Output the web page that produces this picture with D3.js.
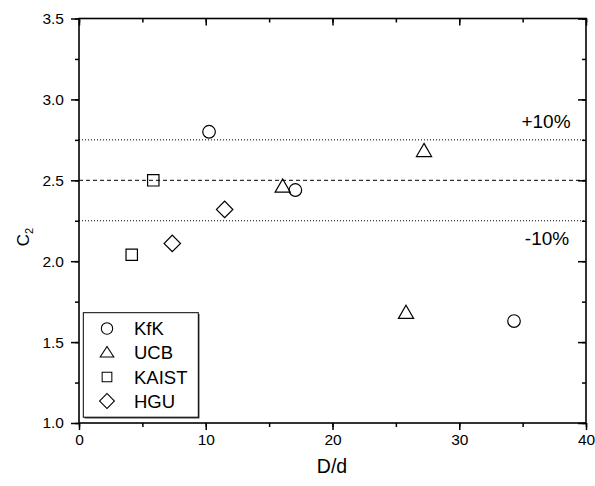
<!DOCTYPE html>
<html><head><meta charset="utf-8">
<script src="https://cdn.jsdelivr.net/npm/d3@7"></script>
<style>body{margin:0;background:#fff;} svg text{font-family:"Liberation Sans",Arial,sans-serif !important;fill:#000;}</style>
</head><body><svg id="c" width="595" height="486"></svg>
<script>
// Data
const kfkX = [10.26, 17.07, 34.32];
const kfkY = [2.80, 2.44, 1.63];
const ucbX = [16.07, 27.22, 25.80];
const ucbY = [2.46, 2.68, 1.68];
const kaistX = [5.86, 4.16];
const kaistY = [2.50, 2.04];
const hguX = [11.49, 7.36];
const hguY = [2.32, 2.11];
const xTicks = [0, 10, 20, 30, 40];
const yTicks = [1.0, 1.5, 2.0, 2.5, 3.0, 3.5];
const refLines = [2.75, 2.5, 2.25];

const svg = d3.select("#c");
const L = 79, R = 586, T = 18.5, B = 423;
const x = d3.scaleLinear().domain([0, 40]).range([L, R]);
const y = d3.scaleLinear().domain([1.0, 3.5]).range([B, T]);

// reference lines
svg.append("line").attr("x1", L).attr("x2", R).attr("y1", y(refLines[0])).attr("y2", y(refLines[0]))
  .attr("stroke", "#000").attr("stroke-width", 1).attr("stroke-dasharray", "1,2");
svg.append("line").attr("x1", L).attr("x2", R).attr("y1", y(refLines[1])).attr("y2", y(refLines[1]))
  .attr("stroke", "#000").attr("stroke-width", 1).attr("stroke-dasharray", "4,3");
svg.append("line").attr("x1", L).attr("x2", R).attr("y1", y(refLines[2])).attr("y2", y(refLines[2]))
  .attr("stroke", "#000").attr("stroke-width", 1).attr("stroke-dasharray", "1,2");

svg.append("text").attr("x", 546).attr("y", 127.5).attr("text-anchor", "middle").attr("font-size", 19).text("+10%");
svg.append("text").attr("x", 547).attr("y", 245).attr("text-anchor", "middle").attr("font-size", 19).text("-10%");

// axes
const fmt = d3.format(".1f");
const xMinor = d3.range(0, 41, 5);
const yMinor = d3.range(1.0, 3.51, 0.25);
function styleAxis(g){ g.select(".domain").remove(); g.attr("font-family", "Liberation Sans"); g.selectAll("line").attr("stroke","#000").attr("stroke-width",1.5); }

svg.append("g").attr("transform", `translate(0,${B})`)
  .call(d3.axisBottom(x).tickValues(xMinor).tickSize(4).tickFormat(""))
  .call(styleAxis);
svg.append("g").attr("transform", `translate(0,${B})`)
  .call(d3.axisBottom(x).tickValues(xTicks).tickSize(7).tickPadding(4).tickFormat(d3.format("d")))
  .call(styleAxis).call(g => g.selectAll("text").attr("font-size", 15.5));
svg.append("g").attr("transform", `translate(0,${T})`)
  .call(d3.axisBottom(x).tickValues(xMinor).tickSize(4).tickFormat(""))
  .call(styleAxis);
svg.append("g").attr("transform", `translate(0,${T})`)
  .call(d3.axisBottom(x).tickValues(xTicks).tickSize(7).tickFormat(""))
  .call(styleAxis);

svg.append("g").attr("transform", `translate(${L},0)`)
  .call(d3.axisLeft(y).tickValues(yMinor).tickSize(4).tickFormat(""))
  .call(styleAxis);
svg.append("g").attr("transform", `translate(${L},0)`)
  .call(d3.axisLeft(y).tickValues(yTicks).tickSize(8).tickPadding(7).tickFormat(fmt))
  .call(styleAxis).call(g => g.selectAll("text").attr("font-size", 15.5));
svg.append("g").attr("transform", `translate(${R},0)`)
  .call(d3.axisLeft(y).tickValues(yMinor).tickSize(4).tickFormat(""))
  .call(styleAxis);
svg.append("g").attr("transform", `translate(${R},0)`)
  .call(d3.axisLeft(y).tickValues(yTicks).tickSize(8).tickFormat(""))
  .call(styleAxis);

svg.append("rect").attr("x", L).attr("y", T).attr("width", R - L).attr("height", B - T)
  .attr("fill", "none").attr("stroke", "#000").attr("stroke-width", 1.6);

// axis titles
svg.append("text").attr("x", 332).attr("y", 473).attr("text-anchor", "middle").attr("font-size", 19.5).text("D/d");
const yl = svg.append("text").attr("transform", "translate(29,237) rotate(-90)").attr("text-anchor", "middle").attr("font-size", 17);
yl.append("tspan").text("C");
yl.append("tspan").attr("font-size", 11).attr("dy", 4).text("2");

// symbols
const sym = {
  circle: d3.symbol().type(d3.symbolCircle).size(Math.PI * 6.3 * 6.3),
  triangle: d3.symbol().type(d3.symbolTriangle).size(100),
  square: d3.symbol().type(d3.symbolSquare).size(130),
  diamond: d3.symbol().type(d3.symbolSquare).size(135)
};
function plot(xs, ys, kind){
  const data = xs.map((v, i) => [v, ys[i]]);
  svg.append("g").selectAll("path").data(data).join("path")
    .attr("d", sym[kind]())
    .attr("transform", d => `translate(${x(d[0])},${y(d[1])})` + (kind === "diamond" ? " rotate(45)" : "") + (kind === "triangle" ? " translate(0,1)" : ""))
    .attr("fill", "none").attr("stroke", "#000").attr("stroke-width", 1.2);
}
plot(kfkX, kfkY, "circle");
plot(ucbX, ucbY, "triangle");
plot(kaistX, kaistY, "square");
plot(hguX, hguY, "diamond");

// legend
const lg = svg.append("g");
lg.append("rect").attr("x", 84.5).attr("y", 314).attr("width", 115).attr("height", 104.5).attr("fill", "#444");
lg.append("rect").attr("x", 83.3).attr("y", 312.7).attr("width", 115).attr("height", 104.5).attr("fill", "#fff").attr("stroke", "#000").attr("stroke-width", 1);
const names = ["KfK", "UCB", "KAIST", "HGU"];
const kinds = ["circle", "triangle", "square", "diamond"];
const rowY = [328.5, 352.5, 377, 401];
names.forEach((n, i) => {
  lg.append("path").attr("d", sym[kinds[i]]())
    .attr("transform", `translate(107,${rowY[i]})` + (kinds[i] === "diamond" ? " rotate(45) scale(0.9)" : "") + (kinds[i] === "triangle" ? " translate(0,1) scale(0.9,0.8)" : "") + (kinds[i] === "circle" ? " scale(0.9)" : "") + (kinds[i] === "square" ? " scale(0.85)" : ""))
    .attr("fill", "none").attr("stroke", "#000").attr("stroke-width", 1.2);
  lg.append("text").attr("x", 134).attr("y", rowY[i] + 6.5).attr("font-size", 18.5).text(n);
});
</script></body></html>
